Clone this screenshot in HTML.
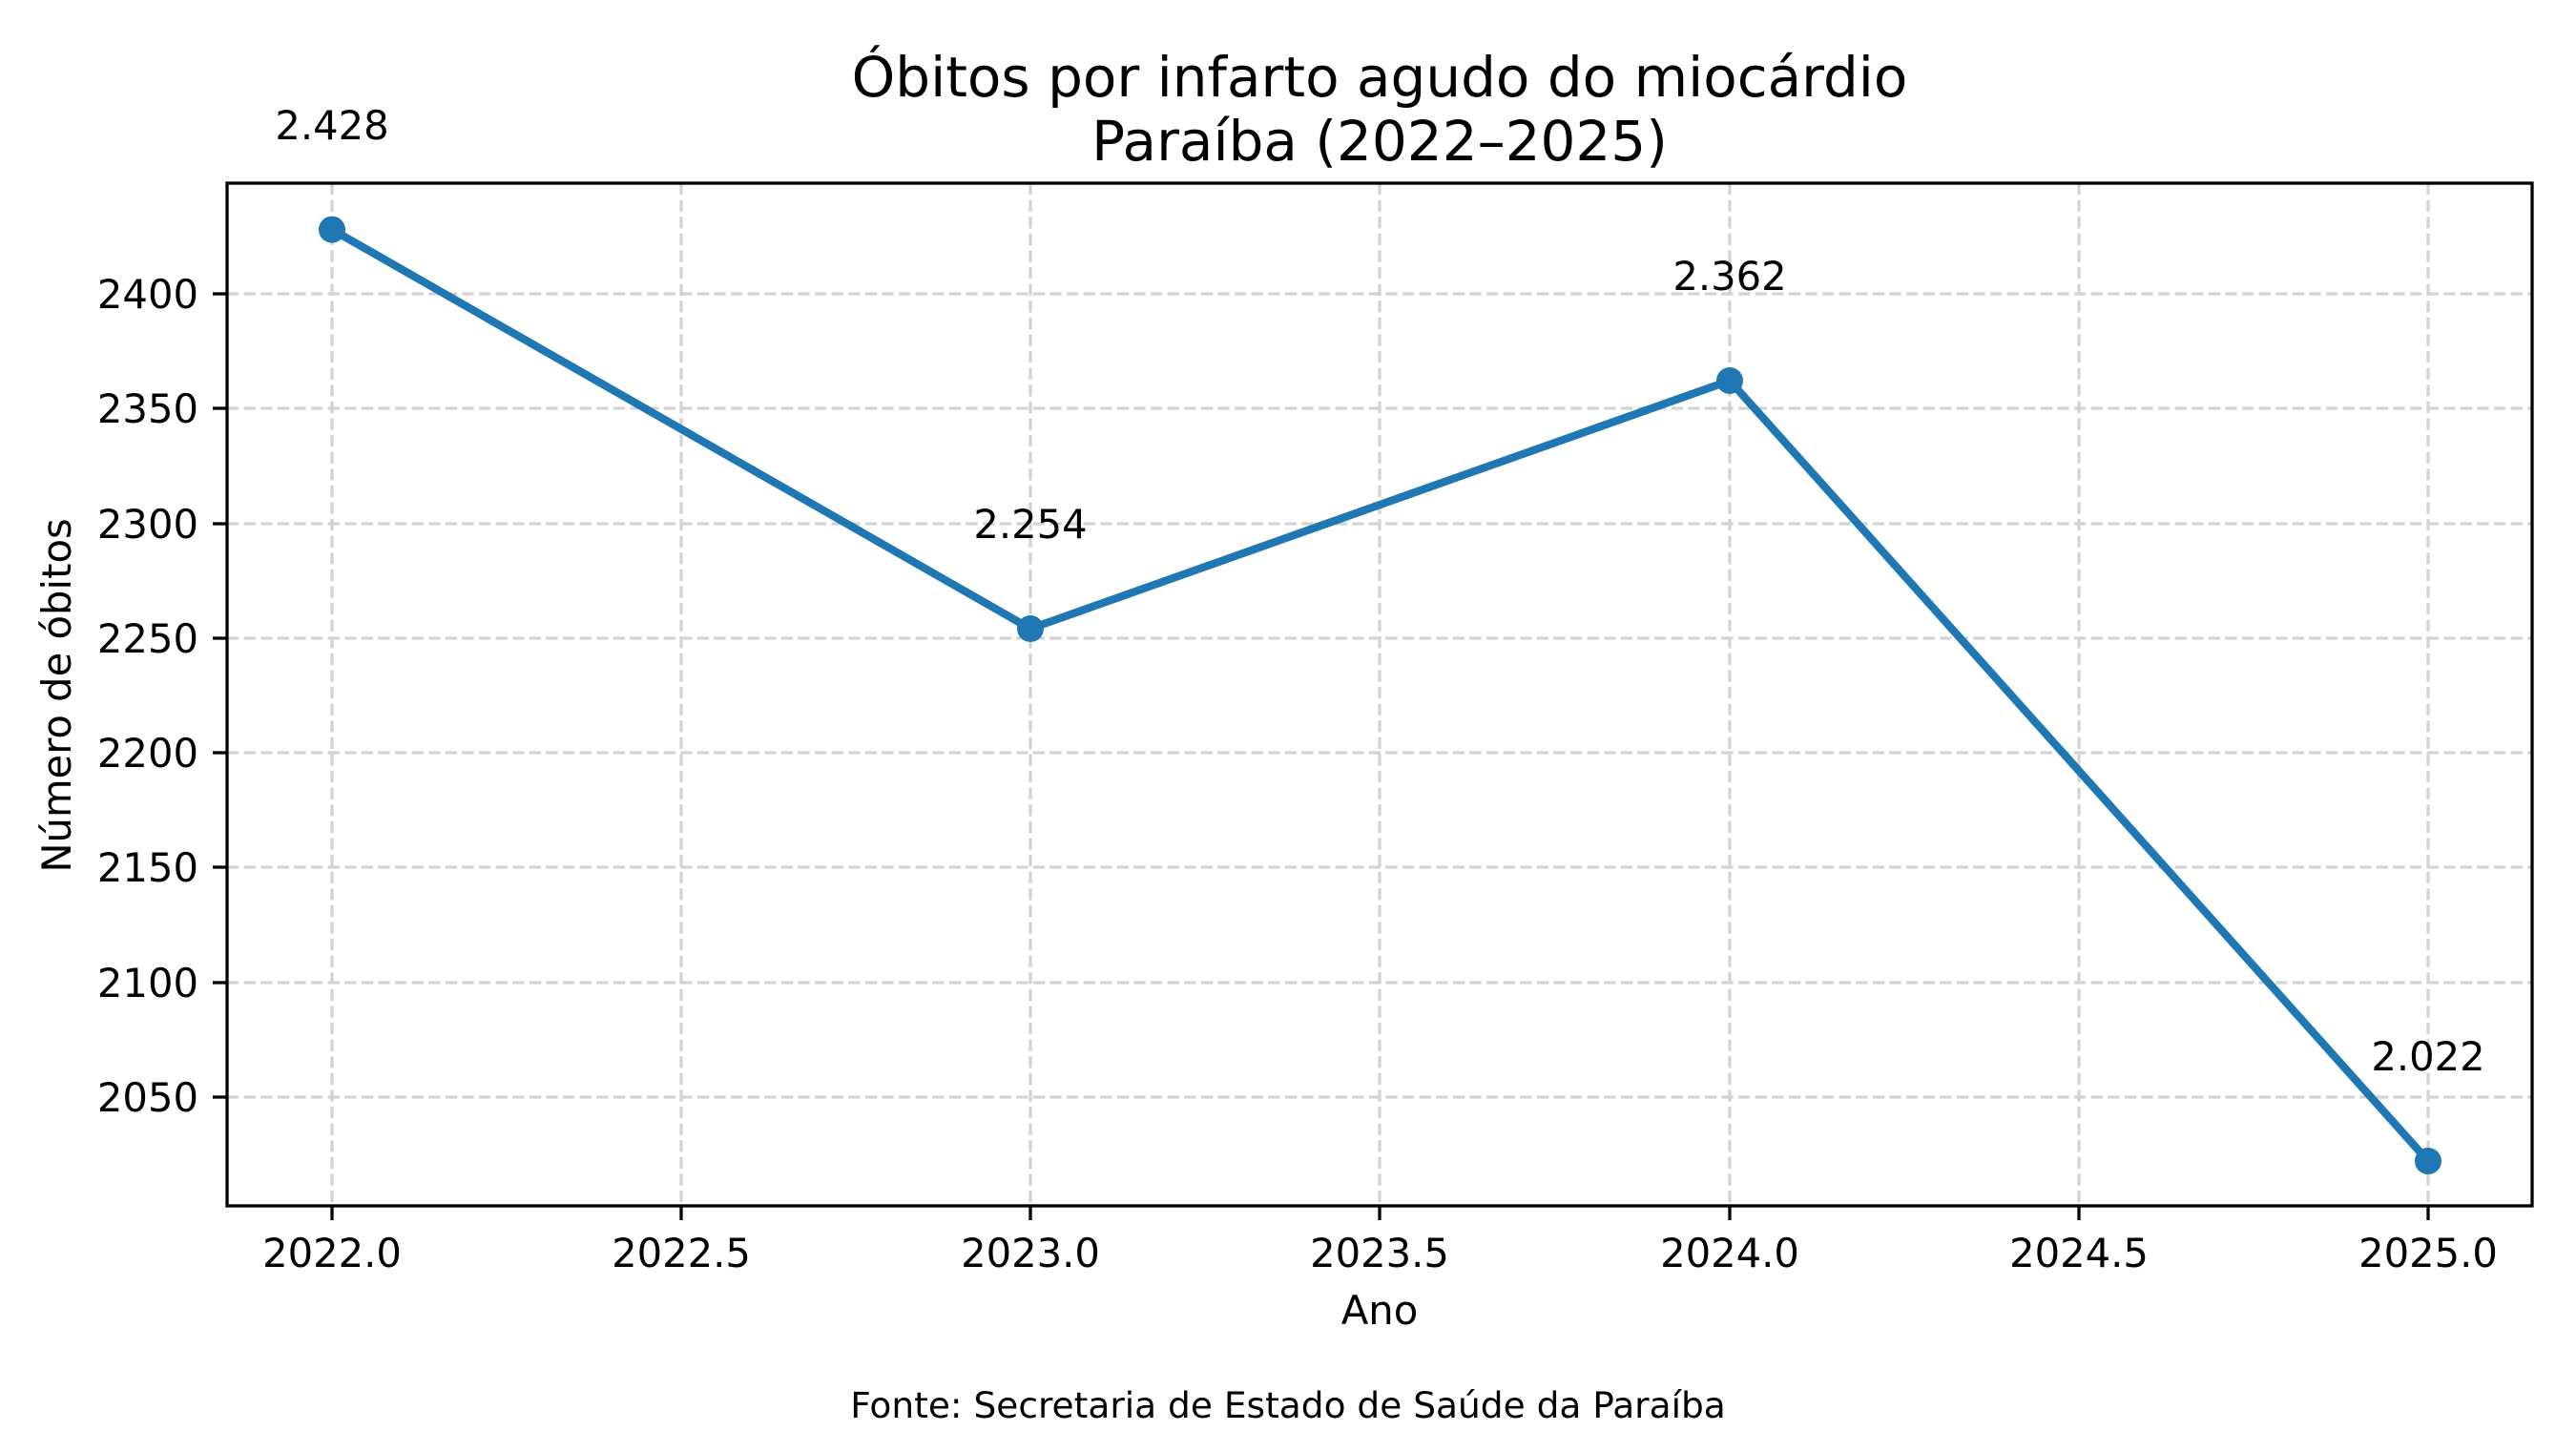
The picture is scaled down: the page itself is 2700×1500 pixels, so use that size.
<!DOCTYPE html>
<html><head><meta charset="utf-8"><style>html,body{margin:0;padding:0;background:#fff}svg{display:block}</style></head>
<body>
<svg width="2700" height="1500" viewBox="0 0 2700 1500" xmlns="http://www.w3.org/2000/svg" font-family="'DejaVu Sans','Liberation Sans',sans-serif">
<rect width="2700" height="1500" fill="#fff"/>
<g stroke="#d3d3d3" stroke-width="3.3" stroke-dasharray="12.3,5.3">
<line x1="348" y1="192" x2="348" y2="1264"/>
<line x1="714" y1="192" x2="714" y2="1264"/>
<line x1="1080" y1="192" x2="1080" y2="1264"/>
<line x1="1446" y1="192" x2="1446" y2="1264"/>
<line x1="1813" y1="192" x2="1813" y2="1264"/>
<line x1="2179" y1="192" x2="2179" y2="1264"/>
<line x1="2545" y1="192" x2="2545" y2="1264"/>
<line x1="238" y1="308" x2="2654" y2="308"/>
<line x1="238" y1="428" x2="2654" y2="428"/>
<line x1="238" y1="549" x2="2654" y2="549"/>
<line x1="238" y1="669" x2="2654" y2="669"/>
<line x1="238" y1="789" x2="2654" y2="789"/>
<line x1="238" y1="909" x2="2654" y2="909"/>
<line x1="238" y1="1030" x2="2654" y2="1030"/>
<line x1="238" y1="1150" x2="2654" y2="1150"/>
</g>
<polyline points="348,240.6 1080,659 1813,399 2545,1217" fill="none" stroke="#1f77b4" stroke-width="8.3" stroke-linejoin="round"/>
<g fill="#1f77b4">
<circle cx="348" cy="240.6" r="14"/><circle cx="1080" cy="659" r="14"/><circle cx="1813" cy="399" r="14"/><circle cx="2545" cy="1217" r="14"/>
</g>
<rect x="238" y="192" width="2416" height="1072" fill="none" stroke="#000" stroke-width="3.3"/>
<g stroke="#000" stroke-width="3.3">
<line x1="348" y1="1264" x2="348" y2="1279"/><line x1="714" y1="1264" x2="714" y2="1279"/><line x1="1080" y1="1264" x2="1080" y2="1279"/><line x1="1446" y1="1264" x2="1446" y2="1279"/><line x1="1813" y1="1264" x2="1813" y2="1279"/><line x1="2179" y1="1264" x2="2179" y2="1279"/><line x1="2545" y1="1264" x2="2545" y2="1279"/>
<line x1="223" y1="308" x2="238" y2="308"/><line x1="223" y1="428" x2="238" y2="428"/><line x1="223" y1="549" x2="238" y2="549"/><line x1="223" y1="669" x2="238" y2="669"/><line x1="223" y1="789" x2="238" y2="789"/><line x1="223" y1="909" x2="238" y2="909"/><line x1="223" y1="1030" x2="238" y2="1030"/><line x1="223" y1="1150" x2="238" y2="1150"/>
</g>
<g font-size="41.7" fill="#000" text-anchor="middle">
<text x="348" y="1328">2022.0</text><text x="714" y="1328">2022.5</text><text x="1080" y="1328">2023.0</text><text x="1446" y="1328">2023.5</text><text x="1813" y="1328">2024.0</text><text x="2179" y="1328">2024.5</text><text x="2545" y="1328">2025.0</text>
</g>
<g font-size="41.7" fill="#000" text-anchor="end">
<text x="208" y="323">2400</text><text x="208" y="443">2350</text><text x="208" y="564">2300</text><text x="208" y="684">2250</text><text x="208" y="804">2200</text><text x="208" y="924">2150</text><text x="208" y="1045">2100</text><text x="208" y="1165">2050</text>
</g>
<g font-size="41.7" fill="#000" text-anchor="middle">
<text x="348" y="146">2.428</text><text x="1080" y="564">2.254</text><text x="1813" y="304">2.362</text><text x="2545" y="1122">2.022</text>
<text x="1446" y="1388">Ano</text>
<text transform="translate(74,729) rotate(-90)">Número de óbitos</text>
</g>
<g font-size="58" fill="#000" text-anchor="middle">
<text x="1446" y="101">Óbitos por infarto agudo do miocárdio</text>
<text x="1446" y="168">Paraíba (2022–2025)</text>
</g>
<text x="1350" y="1486" font-size="37.5" text-anchor="middle" fill="#000">Fonte: Secretaria de Estado de Saúde da Paraíba</text>
</svg>
</body></html>
